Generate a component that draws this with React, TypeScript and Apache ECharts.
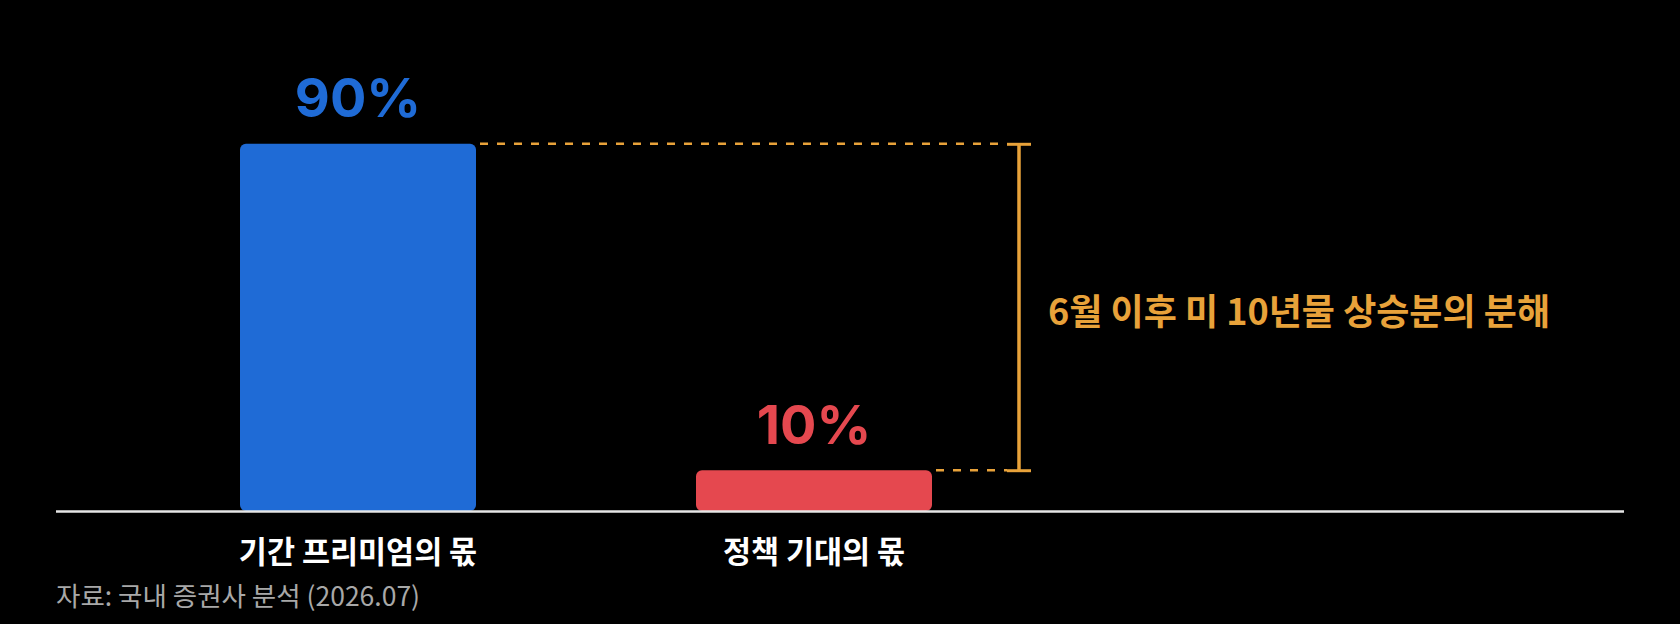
import React, { useEffect, useRef } from "react";
import * as echarts from "echarts";

const categories = ["기간 프리미엄의 몫", "정책 기대의 몫"];
const shares = [90, 10];
const barColors = ["#1F6BD6", "#E5484F"];
const annotationText = "6월 이후 미 10년물 상승분의 분해";
const sourceText = "자료: 국내 증권사 분석 (2026.07)";

const FONT = "Inter, 'Noto Sans CJK KR', sans-serif";
const KFONT = "'Noto Sans CJK KR', Inter, sans-serif";
const ORANGE = "#E8A23A";

export default function App() {
  const ref = useRef<HTMLDivElement>(null);

  useEffect(() => {
    document.body.style.margin = "0";
    document.body.style.background = "#000";
    const chart = echarts.init(ref.current!, null, { renderer: "svg" });
    const barHalf = 118;

    chart.setOption({
      animation: false,
      backgroundColor: "#000",
      grid: { left: 130, width: 912, top: 103, bottom: 113 },
      xAxis: {
        type: "category",
        data: categories,
        axisLine: { show: false },
        axisTick: { show: false },
        axisLabel: {
          color: "#fff",
          fontFamily: KFONT,
          fontWeight: "bold",
          fontSize: 30.5,
          margin: 24,
        },
      },
      yAxis: { type: "value", min: 0, max: 100, show: false, splitLine: { show: false } },
      graphic: [
        {
          type: "line",
          shape: { x1: 56, y1: 511.5, x2: 1624, y2: 511.5 },
          style: { stroke: "#e6e6e6", lineWidth: 2.5 },
          z: 10,
        },
        {
          type: "text",
          x: 56,
          y: 594,
          style: {
            text: sourceText,
            fill: "#a8a8a8",
            font: `26.5px ${KFONT}`,
            verticalAlign: "middle",
          },
        },
      ],
      series: [
        {
          type: "bar",
          barWidth: 236,
          data: shares.map((v, i) => ({
            value: v,
            itemStyle: { color: barColors[i], borderRadius: 6 },
            label: { color: barColors[i] },
          })),
          label: {
            show: true,
            position: "top",
            distance: 18,
            formatter: "{c}%",
            fontFamily: FONT,
            fontWeight: "bold",
            fontSize: 54,
            lineHeight: 56,
          },
        },
        {
          type: "custom",
          data: [[1, shares[0], shares[1]]],
          encode: { x: 0, y: 1 },
          clip: false,
          z: 5,
          renderItem: (params: any, api: any) => {
            const top = api.coord([0, api.value(1)]);
            const low = api.coord([1, api.value(2)]);
            const yTop = top[1];
            const yLow = low[1];
            const bx = low[0] + 205;
            const dash = { stroke: ORANGE, lineWidth: 2.5, lineDash: [8, 9] };
            const solid = { stroke: ORANGE, lineWidth: 3.5 };
            return {
              type: "group",
              children: [
                {
                  type: "line",
                  shape: { x1: top[0] + barHalf + 4, y1: yTop, x2: bx - 12, y2: yTop },
                  style: dash,
                },
                {
                  type: "line",
                  shape: { x1: low[0] + barHalf + 4, y1: yLow, x2: bx - 12, y2: yLow },
                  style: dash,
                },
                {
                  type: "line",
                  shape: { x1: bx, y1: yTop, x2: bx, y2: yLow },
                  style: solid,
                },
                {
                  type: "line",
                  shape: { x1: bx - 12, y1: yTop + 0.5, x2: bx + 12, y2: yTop + 0.5 },
                  style: { stroke: ORANGE, lineWidth: 3 },
                },
                {
                  type: "line",
                  shape: { x1: bx - 12, y1: yLow + 0.5, x2: bx + 12, y2: yLow + 0.5 },
                  style: { stroke: ORANGE, lineWidth: 3 },
                },
                {
                  type: "text",
                  x: bx + 29,
                  y: (yTop + yLow) / 2 + 2,
                  style: {
                    text: annotationText,
                    fill: ORANGE,
                    font: `bold 36px ${KFONT}`,
                    verticalAlign: "middle",
                    align: "left",
                  },
                },
              ],
            };
          },
        },
      ],
    });

    return () => chart.dispose();
  }, []);

  return <div ref={ref} style={{ width: 1680, height: 624, background: "#000" }} />;
}
